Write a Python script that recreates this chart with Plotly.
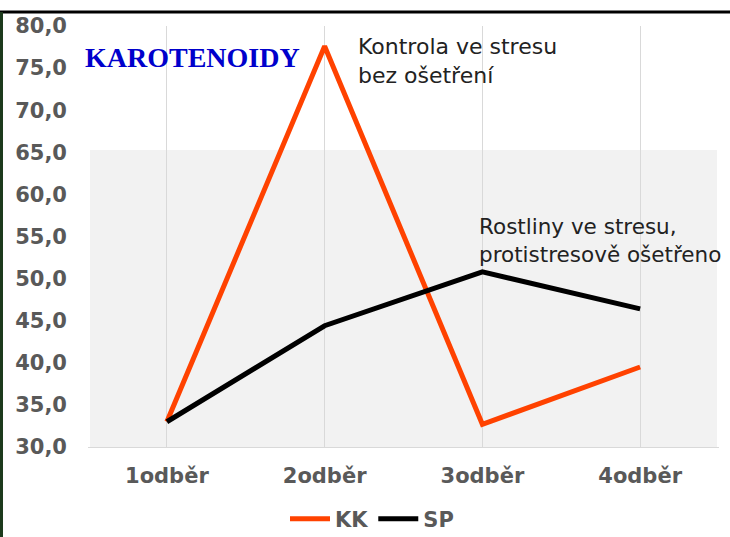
import plotly.graph_objects as go

categories = ["1odběr", "2odběr", "3odběr", "4odběr"]
kk_values = [33.0, 77.6, 32.7, 39.5]
sp_values = [33.0, 44.4, 50.8, 46.4]
series_names = ["KK", "SP"]
y_ticks = [30, 35, 40, 45, 50, 55, 60, 65, 70, 75, 80]

W, H = 730, 537
L, R, T, B = 88, 11, 26, 90
pw, ph = W - L - R, H - T - B


def px_x(x):
    return (x - L) / pw


def px_y(y):
    return (H - B - y) / ph


fig = go.Figure()
fig.add_trace(go.Scatter(x=categories, y=kk_values, name=series_names[0], mode="lines",
                         line=dict(color="#FF4200", width=5)))
fig.add_trace(go.Scatter(x=categories, y=sp_values, name=series_names[1], mode="lines",
                         line=dict(color="#000000", width=5)))

tickfont = dict(family="DejaVu Sans", size=21, color="#595959", weight="bold")

fig.update_layout(
    width=W, height=H,
    margin=dict(l=L, r=R, t=T, b=B, pad=0, autoexpand=False),
    paper_bgcolor="white", plot_bgcolor="white",
    separators=",.",
    showlegend=True,
    legend=dict(orientation="h", x=px_x(372), y=px_y(519), xanchor="center", yanchor="middle",
                font=dict(family="DejaVu Sans", size=21, color="#595959", weight="bold"),
                bgcolor="rgba(0,0,0,0)", itemwidth=40, tracegroupgap=0),
    xaxis=dict(range=[-0.5, 3.5], showgrid=True, gridcolor="#d9d9d9", gridwidth=1,
               showline=True, linecolor="#d9d9d9", linewidth=1, ticks="",
               tickfont=tickfont, ticklabelstandoff=10, zeroline=False, fixedrange=True),
    yaxis=dict(range=[30, 80], tickvals=y_ticks, tickformat=".1f", showgrid=False,
               showline=False, ticks="", tickfont=tickfont, ticklabelstandoff=20,
               zeroline=False, fixedrange=True),
    shapes=[
        dict(type="rect", xref="paper", yref="paper", x0=px_x(90), x1=px_x(717),
             y0=0, y1=px_y(150), fillcolor="#f2f2f2", line=dict(width=0), layer="below"),
        dict(type="line", xref="paper", yref="paper", x0=px_x(0), x1=px_x(730),
             y0=px_y(12), y1=px_y(12), line=dict(color="#000000", width=3)),
        dict(type="line", xref="paper", yref="paper", x0=px_x(1.5), x1=px_x(1.5),
             y0=px_y(12), y1=px_y(537), line=dict(color="#1c3a1c", width=3)),
    ],
    annotations=[
        dict(text="<b>KAROTENOIDY</b>", xref="paper", yref="paper", x=px_x(192), y=px_y(57),
             xanchor="center", yanchor="middle", showarrow=False,
             font=dict(family="Liberation Serif", size=28, color="#0000CC")),
        dict(text="Kontrola ve stresu<br>bez ošetření", xref="paper", yref="paper",
             x=px_x(356), y=px_y(61), xanchor="left", yanchor="middle", align="left",
             showarrow=False, font=dict(family="DejaVu Sans", size=22, color="#222222")),
        dict(text="Rostliny ve stresu,<br>protistresově ošetřeno", xref="paper", yref="paper",
             x=px_x(477), y=px_y(240), xanchor="left", yanchor="middle", align="left",
             showarrow=False, font=dict(family="DejaVu Sans", size=21.5, color="#222222")),
    ],
)

fig.write_html("out.html", config={"responsive": False, "displayModeBar": False},
               post_script="document.body.style.margin='0';document.body.style.padding='0';")
